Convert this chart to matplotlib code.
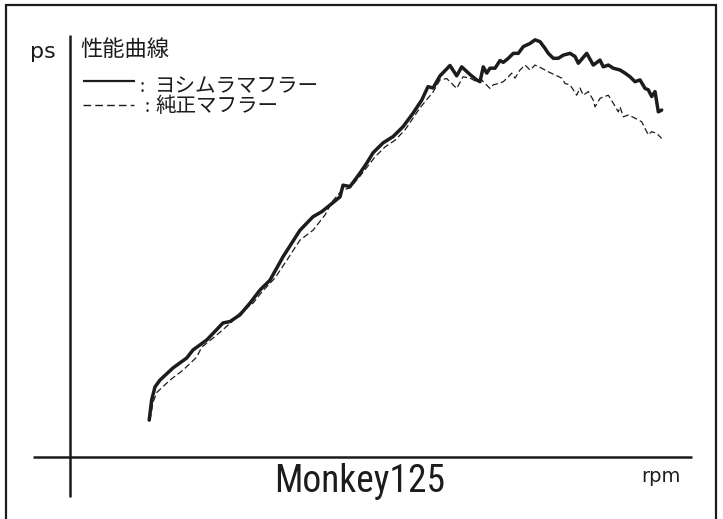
import matplotlib
matplotlib.use("Agg")
import matplotlib.pyplot as plt
from matplotlib.patches import Rectangle

plt.rcParams['font.family'] = ['Noto Sans CJK JP', 'DejaVu Sans']

# ---- data (rpm, ps) ----
yoshimura_rpm = [2015, 2046, 2088, 2150, 2313, 2484, 2563, 2734, 2938, 3025, 3150, 3275,
                 3400, 3525, 3688, 3900, 4063, 4171, 4400, 4438, 4525, 4650, 4734, 4813,
                 4938, 5063, 5188, 5313, 5421, 5500, 5563, 5650, 5775, 5859, 5921, 6025,
                 6109, 6150, 6191, 6234, 6275, 6338, 6400, 6441, 6504, 6566, 6629, 6691,
                 6775, 6838, 6900, 6963, 7004, 7066, 7129, 7191, 7275, 7338, 7379, 7484,
                 7566, 7650, 7691, 7754, 7816, 7900, 7963, 8025, 8088, 8150, 8213, 8254,
                 8296, 8338, 8379, 8421]
yoshimura_ps = [0.82, 1.27, 1.56, 1.71, 1.98, 2.20, 2.38, 2.60, 2.98, 3.01, 3.16, 3.42,
                3.71, 3.93, 4.45, 5.04, 5.34, 5.45, 5.78, 6.04, 6.01, 6.31, 6.53, 6.76,
                6.98, 7.12, 7.34, 7.64, 7.93, 8.23, 8.20, 8.47, 8.70, 8.47, 8.67, 8.50,
                8.38, 8.34, 8.67, 8.53, 8.64, 8.64, 8.81, 8.77, 8.86, 8.97, 8.97, 9.12,
                9.19, 9.27, 9.23, 9.08, 8.97, 8.86, 8.86, 8.93, 8.97, 8.90, 8.75, 8.97,
                8.71, 8.82, 8.67, 8.71, 8.64, 8.60, 8.53, 8.45, 8.34, 8.38, 8.19, 8.16,
                8.01, 8.12, 7.67, 7.71]

stock_rpm = [2025, 2063, 2113, 2275, 2438, 2609, 2671, 2859, 3046, 3150, 3313, 3425,
             3588, 3738, 3900, 4063, 4213, 4300, 4425, 4525, 4650, 4750, 4838, 4963,
             5088, 5213, 5313, 5400, 5563, 5650, 5734, 5859, 5938, 6025, 6109, 6171,
             6213, 6275, 6316, 6379, 6441, 6504, 6546, 6588, 6650, 6713, 6775, 6838,
             6921, 7004, 7088, 7171, 7213, 7275, 7316, 7359, 7400, 7441, 7504, 7566,
             7588, 7650, 7754, 7816, 7879, 7900, 7941, 8004, 8088, 8171, 8213, 8254,
             8296, 8359, 8421]
stock_ps = [0.82, 1.22, 1.44, 1.71, 1.93, 2.22, 2.44, 2.71, 3.00, 3.20, 3.42, 3.67,
            3.98, 4.38, 4.82, 5.04, 5.38, 5.67, 5.93, 5.98, 6.24, 6.47, 6.67, 6.89,
            7.04, 7.27, 7.53, 7.76, 8.11, 8.38, 8.41, 8.19, 8.45, 8.42, 8.34, 8.38,
            8.30, 8.19, 8.27, 8.30, 8.34, 8.45, 8.53, 8.42, 8.60, 8.71, 8.60, 8.71,
            8.64, 8.56, 8.49, 8.42, 8.30, 8.27, 8.16, 8.04, 8.20, 8.04, 8.12, 7.93,
            7.78, 7.97, 8.04, 7.86, 7.67, 7.78, 7.56, 7.60, 7.53, 7.45, 7.30, 7.16,
            7.23, 7.19, 7.08]

title_text = "性能曲線"
legend_labels = ["ヨシムラマフラー", "純正マフラー"]
y_unit = "ps"
x_unit = "rpm"
model_name = "Monkey125"

# ---- figure ----
W, H = 723, 519
fig = plt.figure(figsize=(W / 100, H / 100), dpi=100)
ax = fig.add_axes([0, 0, 1, 1])
ax.set_xlim(150, 150 + 12.5 * W)
ax.set_ylim((457 - H) / 45, 457 / 45)
ax.axis('off')


def fx(px):
    return px / W


def fy(py):
    return 1 - py / H


ink = '#1c1c1c'

# outer border
fig.patches.append(Rectangle((fx(6), -0.05), fx(716) - fx(6), fy(5) + 0.05,
                             transform=fig.transFigure, fill=False, lw=1.6, ec=ink))

# axis lines
ax.plot([fx(70), fx(70)], [fy(35), fy(497)], transform=ax.transAxes,
        color=ink, lw=1.8, solid_capstyle='butt')
ax.plot([fx(33), fx(692)], [fy(457), fy(457)], transform=ax.transAxes,
        color=ink, lw=1.8, solid_capstyle='butt')

# curves
ax.plot(stock_rpm, stock_ps, color=ink, lw=0.9, dashes=(5, 2.5))
ax.plot(yoshimura_rpm, yoshimura_ps, color=ink, lw=2.5,
        solid_joinstyle='round', solid_capstyle='round')

# texts
fig.text(fx(43), fy(52), y_unit, fontsize=16, ha='center', va='center',
         family=['DejaVu Sans'], color=ink)
fig.text(fx(80), fy(49), title_text, fontsize=16, ha='left', va='center', color=ink)

# legend
ax.plot([fx(83), fx(135)], [fy(80.5), fy(80.5)], transform=ax.transAxes,
        color=ink, lw=1.6, solid_capstyle='butt')
fig.text(fx(142), fy(87), ":", fontsize=13, ha='center', va='center', color=ink)
fig.text(fx(155), fy(86), legend_labels[0], fontsize=14.8, ha='left', va='center', color=ink)

ax.plot([fx(83), fx(134)], [fy(105), fy(105)], transform=ax.transAxes,
        color=ink, lw=1.0, dashes=(5.5, 3.0))
fig.text(fx(147), fy(107), ":", fontsize=13, ha='center', va='center', color=ink)
fig.text(fx(155), fy(106), legend_labels[1], fontsize=14.8, ha='left', va='center', color=ink)

fig.text(fx(360), fy(482), model_name, fontsize=27, ha='center', va='center',
         family=['Roboto Condensed', 'Noto Sans CJK JP', 'DejaVu Sans'], color=ink)
fig.text(fx(661), fy(476), x_unit, fontsize=14, ha='center', va='center',
         family=['DejaVu Sans'], color=ink)

fig.savefig("out.png", dpi=100)
